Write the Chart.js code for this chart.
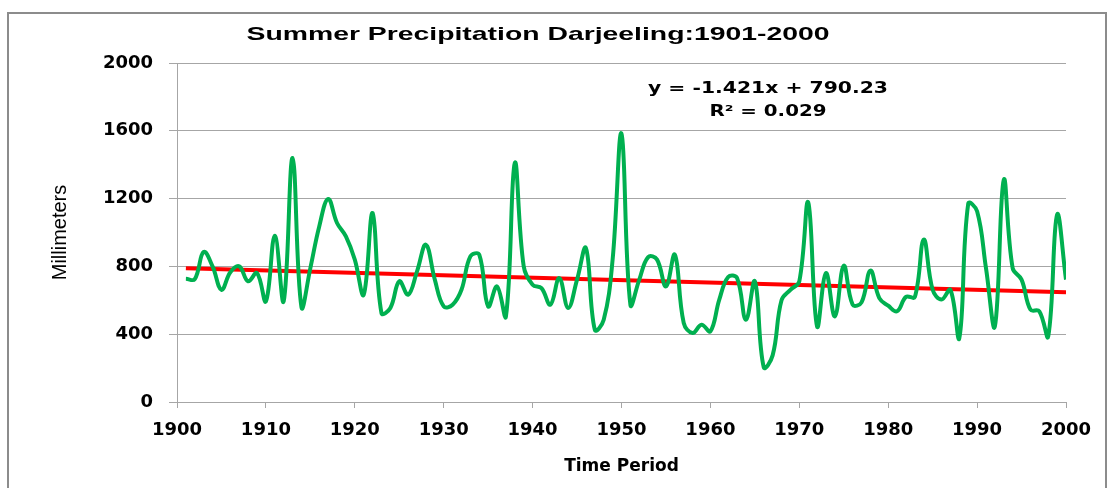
<!DOCTYPE html>
<html>
<head>
<meta charset="utf-8">
<script src="https://cdn.jsdelivr.net/npm/chart.js@4.4.1/dist/chart.umd.min.js"></script>
<style>
  body { margin: 0; background: #fff; overflow: hidden; }
  #wrap { position: relative; width: 1110px; height: 488px; }
  #frame { position: absolute; left: 7px; top: 12px; width: 1096px; height: 600px; border: 2px solid #8c8c8c; }
  #chart { position: absolute; left: 0; top: 0; }
</style>
</head>
<body>
<div id="wrap">
  <div id="frame"></div>
  <canvas id="chart" width="1110" height="488"></canvas>
</div>
<script>
// summer precipitation, Darjeeling, 1901-2000 (mm)
const years = [];
for (let y = 1901; y <= 2000; y++) years.push(y);

const rainfall = [
  727, 725, 885, 800, 662, 765, 800, 712, 761, 594,
  981, 594, 1440, 560, 790, 1036, 1198, 1056, 977, 840,
  633, 1115, 525, 555, 712, 633, 771, 928, 722, 564,
  574, 662, 859, 869, 564, 682, 505, 1410, 800, 692,
  672, 574, 731, 555, 722, 908, 426, 485, 840, 1583,
  574, 722, 855, 840, 682, 869, 466, 407, 456, 417,
  604, 737, 731, 485, 712, 205, 275, 600, 662, 712,
  1178, 446, 761, 505, 804, 574, 588, 775, 613, 568,
  535, 620, 620, 958, 662, 604, 662, 377, 1170, 1125,
  790, 446, 1311, 790, 722, 545, 535, 387, 1105, 722
];

// trend line as printed on the chart: y = -1.421x + 790.23 (x = 1..100)
const trendSlope = -1.421;
const trendIntercept = 790.23;
const trendLabel = ['y = -1.421x + 790.23', 'R\u00b2 = 0.029'];

const xTicks = [1900, 1910, 1920, 1930, 1940, 1950, 1960, 1970, 1980, 1990, 2000];
const yTicks = [0, 400, 800, 1200, 1600, 2000];

const chartTitle = 'Summer Precipitation Darjeeling:1901-2000';

const rainPoints = years.map((yr, i) => ({ x: yr, y: rainfall[i] }));
const trendPoints = [
  { x: years[0], y: trendSlope * 1 + trendIntercept },
  { x: years[years.length - 1], y: trendSlope * years.length + trendIntercept }
];

const gridGray = '#a6a6a6';

// draws text squeezed/stretched to a given width (the source image is stretched sideways)
function drawWide(ctx, text, cx, cy, width, font) {
  ctx.save();
  ctx.font = font;
  ctx.fillStyle = '#000';
  ctx.textAlign = 'center';
  ctx.textBaseline = 'middle';
  const w = ctx.measureText(text).width;
  ctx.translate(cx, cy);
  ctx.scale(width / w, 1);
  ctx.fillText(text, 0, 0);
  ctx.restore();
}

const textPlugin = {
  id: 'textPlugin',
  afterDraw(chart) {
    const ctx = chart.ctx;
    drawWide(ctx, chartTitle, 538, 35, 583, 'bold 19px "Liberation Sans"');
    drawWide(ctx, trendLabel[0], 768, 89, 240, 'bold 15px "DejaVu Sans"');
    drawWide(ctx, trendLabel[1], 768, 112, 117, 'bold 15px "DejaVu Sans"');
  }
};

const ctx = document.querySelector('#chart');

const statsChart = new Chart(ctx, {
  type: 'line',
  data: {
    datasets: [
      {
        label: 'Summer precipitation',
        data: rainPoints,
        borderColor: '#00b050',
        borderWidth: 4,
        pointRadius: 0,
        tension: 0.4,
        fill: false
      },
      {
        label: 'Linear trend',
        data: trendPoints,
        borderColor: '#ff0000',
        borderWidth: 4,
        pointRadius: 0,
        tension: 0,
        fill: false
      }
    ]
  },
  options: {
    responsive: false,
    animation: false,
    devicePixelRatio: 1,
    layout: { padding: { top: 63, right: 44, bottom: 0, left: 0 } },
    plugins: {
      legend: { display: false },
      tooltip: { enabled: false },
      title: { display: false }
    },
    scales: {
      x: {
        type: 'linear',
        min: 1900,
        max: 2000,
        afterBuildTicks: s => { s.ticks = xTicks.map(v => ({ value: v })); },
        afterFit: s => { s.height = 86; },
        ticks: {
          callback: v => String(v),
          color: '#000',
          padding: 12,
          maxRotation: 0,
          font: { family: 'DejaVu Sans', weight: 'bold', size: 18 }
        },
        grid: { drawOnChartArea: false, drawTicks: true, tickLength: 6, color: gridGray },
        border: { display: true, color: gridGray },
        title: {
          display: true,
          text: 'Time Period',
          color: '#000',
          padding: { top: 0, bottom: 11 },
          font: { family: 'DejaVu Sans', weight: 'bold', size: 17 }
        }
      },
      y: {
        min: 0,
        max: 2000,
        afterBuildTicks: s => { s.ticks = yTicks.map(v => ({ value: v })); },
        afterFit: s => { s.width = 177; },
        ticks: {
          callback: v => String(v),
          color: '#000',
          padding: 16,
          font: { family: 'DejaVu Sans', weight: 'bold', size: 18 }
        },
        grid: { color: gridGray, tickLength: 8 },
        border: { display: true, color: gridGray },
        title: {
          display: true,
          text: 'Millimeters',
          color: '#000',
          padding: { top: 48, bottom: 0 },
          font: { family: 'Liberation Sans', size: 20 }
        }
      }
    }
  },
  plugins: [textPlugin]
});
</script>
</body>
</html>
